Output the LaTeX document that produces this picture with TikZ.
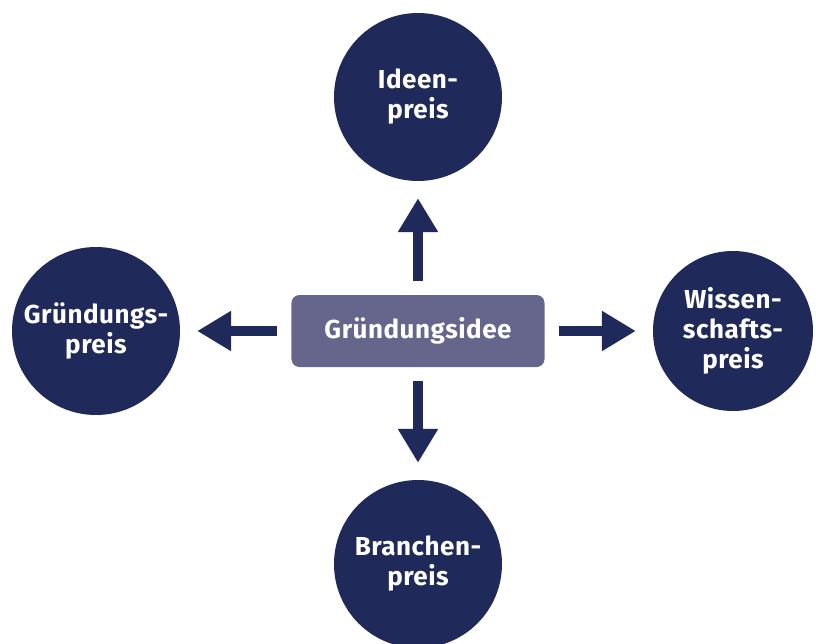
\documentclass[tikz,border=0pt]{standalone}
\usepackage{fontspec}
\setmainfont{Fira Sans}[LetterSpace=2]
\usetikzlibrary{positioning,arrows.meta}

\definecolor{navy}{HTML}{1F2A5A}
\definecolor{slate}{HTML}{66658C}

\begin{document}
\begin{tikzpicture}[
font=\bfseries\fontsize{26}{30}\selectfont,
text=white
]

  \tikzstyle{preis}=[circle,fill=navy,inner sep=0pt,minimum size=168pt,align=center]
  \tikzstyle{idee}=[rectangle,rounded corners=8pt,fill=slate,minimum width=253pt,minimum height=72pt]
  \tikzstyle{pfeil}=[navy,line width=10pt,-{Triangle[width=38pt,length=34pt]},shorten <=14pt,shorten >=17pt]

  \useasboundingbox (-418pt,-312pt) rectangle (398pt,331pt);

  \node (c0) [idee] {Gründungsidee};

  \node (c1) [preis,node distance=234pt,above of=c0] {Ideen-\\preis};
  \node (c2) [preis,node distance=322pt,left of=c0] {Gründungs-\\preis};
  \node (c3) [preis,minimum size=160pt,node distance=315pt,right of=c0] {Wissen-\\schafts-\\preis};
  \node (c4) [preis,node distance=233pt,below of=c0] {Branchen-\\preis};

  \draw [pfeil] (c0) -- (c1);
  \draw [pfeil] (c0) -- (c2);
  \draw [pfeil] (c0) -- (c3);
  \draw [pfeil] (c0) -- (c4);

\end{tikzpicture}
\end{document}
